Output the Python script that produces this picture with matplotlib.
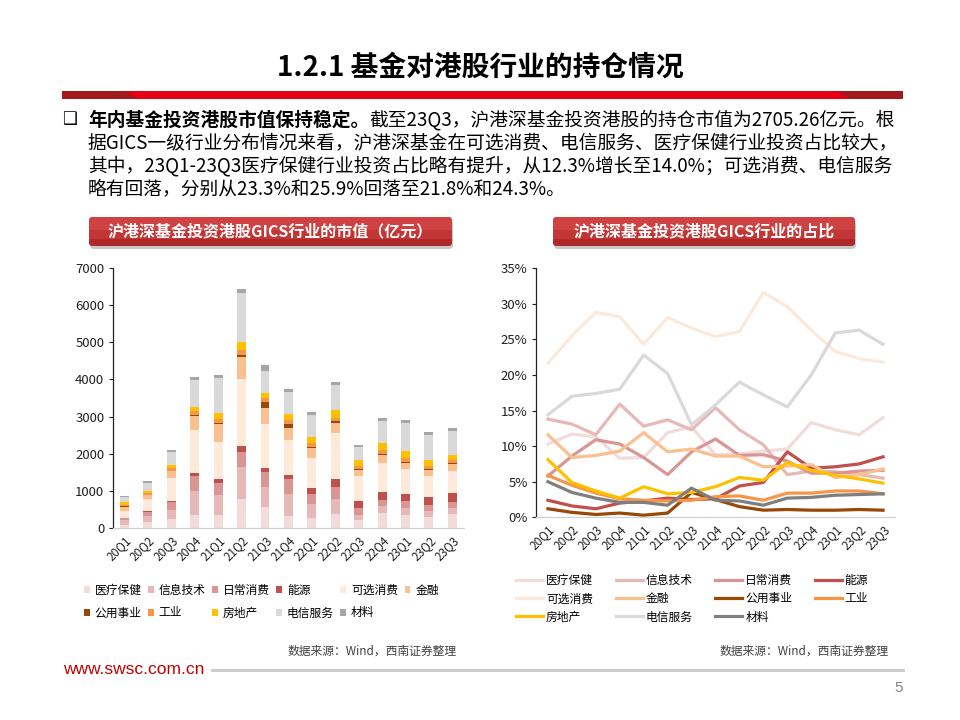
import numpy as np
import matplotlib
matplotlib.use('Agg')
import matplotlib.pyplot as plt
from matplotlib.patches import FancyBboxPatch, Polygon, Rectangle

plt.rcParams['font.family'] = ['Noto Sans CJK SC', 'DejaVu Sans']

quarters = ['20Q1', '20Q2', '20Q3', '20Q4', '21Q1', '21Q2', '21Q3', '21Q4',
            '22Q1', '22Q2', '22Q3', '22Q4', '23Q1', '23Q2', '23Q3']
sectors = ['医疗保健', '信息技术', '日常消费', '能源', '可选消费', '金融',
           '公用事业', '工业', '房地产', '电信服务', '材料']

# market value (亿元), stacked bottom -> top
mv_health = [90, 149, 238, 338, 347, 767, 562, 330, 276, 367, 215, 392, 355, 301, 379]
mv_it = [120, 167, 245, 648, 529, 883, 544, 578, 382, 402, 135, 191, 185, 156, 149]
mv_staples = [50, 110, 230, 420, 347, 387, 407, 413, 270, 347, 177, 183, 179, 169, 179]
mv_energy = [21, 20, 25, 82, 95, 174, 111, 98, 137, 193, 206, 203, 205, 195, 230]
mv_discr = [188, 325, 608, 1149, 1004, 1811, 1177, 953, 811, 1245, 664, 774, 673, 578, 590]
mv_fin = [101, 107, 184, 379, 491, 593, 425, 323, 267, 280, 162, 218, 162, 156, 184]
mv_util = [10, 9, 8, 24, 12, 39, 155, 94, 47, 39, 25, 29, 29, 29, 27]
mv_indu = [51, 57, 72, 106, 99, 148, 106, 109, 93, 95, 76, 100, 107, 96, 89]
mv_real = [70, 62, 78, 110, 178, 213, 155, 161, 174, 205, 173, 194, 171, 140, 130]
mv_tele = [125, 217, 367, 734, 942, 1302, 575, 593, 590, 678, 348, 589, 749, 682, 657]
mv_mat = [44, 45, 57, 86, 87, 110, 181, 90, 71, 67, 61, 82, 90, 83, 89]

# share (%)
pct_health = [10.3, 11.7, 11.3, 8.3, 8.4, 11.9, 12.7, 8.8, 8.9, 9.3, 9.6, 13.3, 12.3, 11.6, 14.0]
pct_it = [13.8, 13.1, 11.6, 15.9, 12.8, 13.7, 12.3, 15.4, 12.3, 10.2, 6.0, 6.5, 6.4, 6.0, 5.5]
pct_staples = [5.8, 8.6, 10.9, 10.3, 8.4, 6.0, 9.2, 11.0, 8.7, 8.8, 7.9, 6.2, 6.2, 6.5, 6.6]
pct_energy = [2.4, 1.6, 1.2, 2.0, 2.3, 2.7, 2.5, 2.6, 4.4, 4.9, 9.2, 6.9, 7.1, 7.5, 8.5]
pct_discr = [21.6, 25.5, 28.8, 28.2, 24.3, 28.1, 26.6, 25.4, 26.1, 31.6, 29.6, 26.3, 23.3, 22.3, 21.8]
pct_fin = [11.6, 8.4, 8.7, 9.3, 11.9, 9.2, 9.6, 8.6, 8.6, 7.1, 7.2, 7.4, 5.6, 6.0, 6.8]
pct_util = [1.2, 0.7, 0.4, 0.6, 0.3, 0.6, 3.5, 2.5, 1.5, 1.0, 1.1, 1.0, 1.0, 1.1, 1.0]
pct_indu = [5.9, 4.5, 3.4, 2.6, 2.4, 2.3, 2.4, 2.9, 3.0, 2.4, 3.4, 3.4, 3.7, 3.7, 3.3]
pct_real = [8.1, 4.9, 3.7, 2.7, 4.3, 3.3, 3.5, 4.3, 5.6, 5.2, 7.7, 6.6, 5.9, 5.4, 4.8]
pct_tele = [14.4, 17.0, 17.4, 18.0, 22.8, 20.2, 13.0, 15.8, 19.0, 17.2, 15.5, 20.0, 25.9, 26.3, 24.3]
pct_mat = [5.0, 3.5, 2.7, 2.1, 2.1, 1.7, 4.1, 2.4, 2.3, 1.7, 2.7, 2.8, 3.1, 3.2, 3.3]

mv_all = [mv_health, mv_it, mv_staples, mv_energy, mv_discr, mv_fin,
          mv_util, mv_indu, mv_real, mv_tele, mv_mat]
pct_all = [pct_health, pct_it, pct_staples, pct_energy, pct_discr, pct_fin,
           pct_util, pct_indu, pct_real, pct_tele, pct_mat]

bar_colors = ['#F2DCDB', '#E6B9B8', '#D99694', '#C0504D', '#FDEADA', '#FAC090',
              '#984807', '#F79646', '#FFC000', '#D9D9D9', '#A6A6A6']
line_colors = ['#F2DCDB', '#E6B9B8', '#D99694', '#C0504D', '#FDE9D9', '#FAC090',
               '#984807', '#F79646', '#FFC000', '#D9D9D9', '#7F7F7F']

bar_ticks = [0, 1000, 2000, 3000, 4000, 5000, 6000, 7000]
pct_ticks = [0, 5, 10, 15, 20, 25, 30, 35]
pct_labels = ['0%', '5%', '10%', '15%', '20%', '25%', '30%', '35%']

fig = plt.figure(figsize=(9.6, 7.2), dpi=100)

# background layer in pixel coordinates
bg = fig.add_axes([0, 0, 1, 1])
bg.set_xlim(0, 960)
bg.set_ylim(720, 0)
bg.axis('off')

bg.text(480, 68, '1.2.1 基金对港股行业的持仓情况', ha='center', va='center',
        fontsize=20, fontweight='bold', color='#000000')

# red rule under the title
bg.add_patch(Polygon([(62, 91), (903, 91), (903, 99), (62, 99)], closed=True,
                     fc='#E60012', ec='none'))
bg.add_patch(Polygon([(62, 91), (125, 91), (138, 99), (62, 99)], closed=True,
                     fc='#A01A1E', ec='none'))
bg.add_patch(Polygon([(838, 91), (903, 91), (903, 99), (850, 99)], closed=True,
                     fc='#A01A1E', ec='none'))

# bullet paragraph
bg.text(69, 119, '❑', ha='center', va='center', fontsize=12,
        family=['DejaVu Sans', 'Noto Sans CJK SC'])
fs = 13.5
t1 = bg.text(88, 120, '年内基金投资港股市值保持稳定。', ha='left', va='center',
             fontsize=fs, fontweight='bold')
r = fig.canvas.get_renderer()
bb = t1.get_window_extent(renderer=r)
x_end = bg.transData.inverted().transform((bb.x1, bb.y0))[0]
bg.text(x_end, 120, '截至23Q3，沪港深基金投资港股的持仓市值为2705.26亿元。根',
        ha='left', va='center', fontsize=fs)
bg.text(88, 143, '据GICS一级行业分布情况来看，沪港深基金在可选消费、电信服务、医疗保健行业投资占比较大，',
        ha='left', va='center', fontsize=fs)
bg.text(88, 166, '其中，23Q1-23Q3医疗保健行业投资占比略有提升，从12.3%增长至14.0%；可选消费、电信服务',
        ha='left', va='center', fontsize=fs)
bg.text(88, 189, '略有回落，分别从23.3%和25.9%回落至21.8%和24.3%。',
        ha='left', va='center', fontsize=fs)


# section header buttons
def header(x0, y0, x1, y1, text):
    bg.add_patch(FancyBboxPatch((x0 + 1, y0 + 3), x1 - x0, y1 - y0,
                                boxstyle='round,pad=0,rounding_size=4',
                                fc='#C8C8C8', ec='none'))
    box = FancyBboxPatch((x0, y0), x1 - x0, y1 - y0,
                         boxstyle='round,pad=0,rounding_size=4',
                         fc='#C23636', ec='none')
    bg.add_patch(box)
    top = Rectangle((x0, y0), x1 - x0, (y1 - y0) * 0.45, fc='#D04242', ec='none')
    bg.add_patch(top)
    top.set_clip_path(box)
    low = Rectangle((x0, y0 + (y1 - y0) * 0.75), x1 - x0, (y1 - y0) * 0.25,
                    fc='#AE2A2A', ec='none')
    bg.add_patch(low)
    low.set_clip_path(box)
    bg.text((x0 + x1) / 2, (y0 + y1) / 2, text, ha='center', va='center',
            fontsize=11.5, fontweight='bold', color='white')


header(89, 217, 452, 246, '沪港深基金投资港股GICS行业的市值（亿元）')
header(553, 217, 855, 246, '沪港深基金投资港股GICS行业的占比')

bg.text(457, 651, '数据来源：Wind，西南证券整理', ha='right', va='center',
        fontsize=8.5, style='italic', color='#404040')
bg.text(889, 651, '数据来源：Wind，西南证券整理', ha='right', va='center',
        fontsize=8.5, style='italic', color='#404040')

# footer
bg.text(63, 669, 'www.swsc.com.cn', ha='left', va='center', fontsize=12.5,
        color='#C00000', family=['Liberation Sans Narrow', 'Liberation Sans'])
bg.plot([212, 903], [670, 670], color='#C8C8C8', lw=2)
bg.text(903, 688, '5', ha='right', va='center', fontsize=11, color='#808080',
        family=['Liberation Sans'])
bg.set_xlim(0, 960)
bg.set_ylim(720, 0)

x = np.arange(len(quarters))

# left: stacked bars
ax1 = fig.add_axes([0.1174, 0.2667, 0.366, 0.361])
bottom = np.zeros(len(quarters))
bar_handles = []
for name, vals, c in zip(sectors, mv_all, bar_colors):
    h = ax1.bar(x, vals, bottom=bottom, width=0.38, color=c, label=name)
    bar_handles.append(h)
    bottom += np.array(vals)
ax1.set_xlim(-0.5, 14.5)
ax1.set_ylim(0, 7000)
ax1.set_yticks(bar_ticks)
ax1.set_xticks(x)
ax1.set_xticklabels(quarters, rotation=45, ha='right', rotation_mode='anchor')

# right: lines
ax2 = fig.add_axes([0.5583, 0.2815, 0.374, 0.346])
line_handles = []
for name, vals, c in zip(sectors, pct_all, line_colors):
    ln, = ax2.plot(x, vals, color=c, lw=2.3, label=name)
    line_handles.append(ln)
ax2.set_xlim(-0.5, 14.5)
ax2.set_ylim(0, 35)
ax2.set_yticks(pct_ticks)
ax2.set_yticklabels(pct_labels)
ax2.set_xticks(x)
ax2.set_xticklabels(quarters, rotation=45, ha='right', rotation_mode='anchor')

for ax in (ax1, ax2):
    for s in ('top', 'right'):
        ax.spines[s].set_visible(False)
    ax.spines['left'].set_color('#222222')
    ax.spines['left'].set_linewidth(0.9)
    ax.spines['bottom'].set_color('#D0D0D0')
    ax.spines['bottom'].set_linewidth(0.9)
    ax.tick_params(axis='y', length=3, width=0.8, color='#222222',
                   labelsize=9.5, labelcolor='#202020', pad=3)
    ax.tick_params(axis='x', length=0, labelsize=8.5, labelcolor='#202020', pad=4)
    ax.patch.set_visible(False)

# legends (row-major order)
order_l = [0, 6, 1, 7, 2, 8, 3, 9, 4, 10, 5]
fig.legend([bar_handles[i] for i in order_l], [sectors[i] for i in order_l],
           loc='upper left', bbox_to_anchor=(84 / 960, 1 - 584 / 720),
           ncol=6, frameon=False, fontsize=8.5, handlelength=0.5,
           handleheight=0.5, handletextpad=0.4, columnspacing=0.55,
           labelspacing=0.8, borderpad=0, borderaxespad=0)

order_r = [0, 4, 8, 1, 5, 9, 2, 6, 10, 3, 7]
fig.legend([line_handles[i] for i in order_r], [sectors[i] for i in order_r],
           loc='upper left', bbox_to_anchor=(516 / 960, 1 - 574 / 720),
           ncol=4, frameon=False, fontsize=8.5, handlelength=2.3,
           handletextpad=0.25, columnspacing=1.9,
           labelspacing=0.45, borderpad=0, borderaxespad=0)

fig.savefig('out.png', dpi=100)
